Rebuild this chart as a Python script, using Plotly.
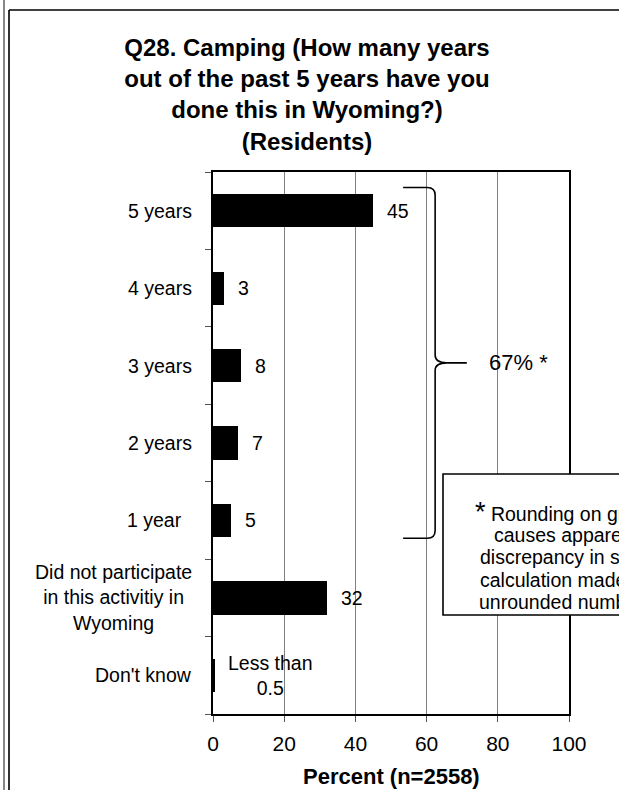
import plotly.graph_objects as go

# ---- data ----
categories = [
    "5 years",
    "4 years",
    "3 years",
    "2 years",
    "1 year\u00a0\u00a0",
    "Did not participate<br>in this activitiy in<br>Wyoming",
    "Don't know",
]
percent = [45, 3, 8, 7, 5, 32, 0.3]
value_labels = ["45", "3", "8", "7", "5", "32", "Less than<br>0.5"]
x_ticks = [0, 20, 40, 60, 80, 100]

brace_first, brace_last = 0, 4
brace_label = "67% *"
note_lines = [
    "<span style='font-size:27px'>*</span> Rounding on graph",
    "causes apparent",
    "discrepancy in sum;",
    "calculation made on",
    "unrounded numbers",
]
title_text = ("<b>Q28. Camping (How many years<br>out of the past 5 years have you<br>"
              "done this in Wyoming?)<br>(Residents)</b>")
x_title = "<b>Percent (n=2558)</b>"

# ---- page geometry ----
W, H = 619, 790
ML, MR, MT, MB = 213, 50, 172, 76
PW, PH = W - ML - MR, H - MT - MB
FONT = "Liberation Sans, Arial, sans-serif"


def px_x(px):
    return (px - ML) / PW


def px_y(py):
    return (H - MB - py) / PH


pos = list(range(len(categories)))

fig = go.Figure()
fig.add_trace(go.Bar(
    x=percent, y=pos, orientation="h", width=0.43,
    marker=dict(color="black", line=dict(width=0)),
    hoverinfo="skip",
))

annotations = []
# category labels, left of the axis
for p, lab in zip(pos, categories):
    annotations.append(dict(
        x=0, xref="paper", y=p, yref="y", text=lab, showarrow=False,
        xanchor="right", yanchor="middle", align="center", xshift=-19,
        font=dict(family=FONT, size=19.5, color="black"),
    ))
# value labels beside each bar
for p, v, lab in zip(pos, percent, value_labels):
    annotations.append(dict(
        x=v, xref="x", y=p, yref="y", text=lab, showarrow=False,
        xanchor="left", yanchor="middle", align="center", xshift=12,
        font=dict(family=FONT, size=19.5, color="black"),
    ))

# curly brace grouping the participating categories
top = brace_first - 0.30
bot = brace_last + 0.23
mid = (top + bot) / 2
bx, lx, tip, end = 62.4, 53.4, 65.6, 71.3
ry, rx = 0.10, 2.2
brace_path = (
    f"M {lx},{top} L {bx - rx},{top} Q {bx},{top} {bx},{top + ry} "
    f"L {bx},{mid - ry} Q {bx},{mid} {tip},{mid} L {end},{mid} "
    f"M {tip},{mid} Q {bx},{mid} {bx},{mid + ry} "
    f"L {bx},{bot - ry} Q {bx},{bot} {bx - rx},{bot} L {lx},{bot}"
)
shapes = [dict(type="path", xref="x", yref="y", path=brace_path,
               line=dict(color="black", width=1.6))]
annotations.append(dict(
    x=77, xref="x", y=mid, yref="y", text=brace_label, showarrow=False,
    xanchor="left", yanchor="middle",
    font=dict(family=FONT, size=22, color="black"),
))

# footnote box, one centred line at a time
shapes.append(dict(type="rect", xref="paper", yref="paper", layer="above",
                   x0=px_x(443), x1=px_x(690), y0=px_y(615), y1=px_y(474),
                   fillcolor="white", line=dict(color="black", width=1.6)))
for i, line in enumerate(note_lines):
    annotations.append(dict(
        x=px_x(566), xref="paper", y=px_y(512 + 22.5 * i), yref="paper",
        text=line, showarrow=False, xanchor="center", yanchor="middle",
        font=dict(family=FONT, size=19.5, color="black"),
    ))

# axis title
annotations.append(dict(
    x=0.5, xref="paper", y=px_y(776), yref="paper", text=x_title,
    showarrow=False, xanchor="center", yanchor="middle",
    font=dict(family=FONT, size=22, color="black"),
))

# page frame lines
shapes += [
    dict(type="line", xref="paper", yref="paper", x0=px_x(4), x1=px_x(4),
         y0=px_y(0), y1=px_y(H), line=dict(color="#6a6a6a", width=1.6)),
    dict(type="line", xref="paper", yref="paper", x0=px_x(9), x1=px_x(9),
         y0=px_y(10), y1=px_y(H), line=dict(color="#333333", width=2)),
    dict(type="line", xref="paper", yref="paper", x0=px_x(9), x1=px_x(W + 5),
         y0=px_y(10), y1=px_y(10), line=dict(color="black", width=1.6)),
]

fig.update_layout(
    width=W, height=H,
    margin=dict(l=ML, r=MR, t=MT, b=MB, autoexpand=False),
    paper_bgcolor="white", plot_bgcolor="white",
    showlegend=False,
    bargap=0,
    title=dict(text=title_text, x=307 / W, xanchor="center", xref="container",
               y=1 - 56 / H, yanchor="top", yref="container",
               font=dict(family=FONT, size=24, color="black")),
    xaxis=dict(
        range=[0, 100], tickvals=x_ticks, ticks="outside", ticklen=6,
        tickcolor="#555555", tickwidth=1,
        showgrid=True, gridcolor="#808080", gridwidth=1, zeroline=False,
        showline=True, linecolor="black", linewidth=2, mirror=True,
        ticklabelstandoff=4,
        tickfont=dict(family=FONT, size=21, color="black"),
    ),
    yaxis=dict(
        range=[len(categories) - 0.5, -0.5],
        tickvals=[p - 0.5 for p in pos] + [len(categories) - 0.5],
        showticklabels=False, ticks="outside", ticklen=6,
        tickcolor="#555555", tickwidth=1,
        showgrid=False, zeroline=False,
        showline=True, linecolor="black", linewidth=2, mirror=True,
    ),
    shapes=shapes,
    annotations=annotations,
)

fig.write_html("out.html")
